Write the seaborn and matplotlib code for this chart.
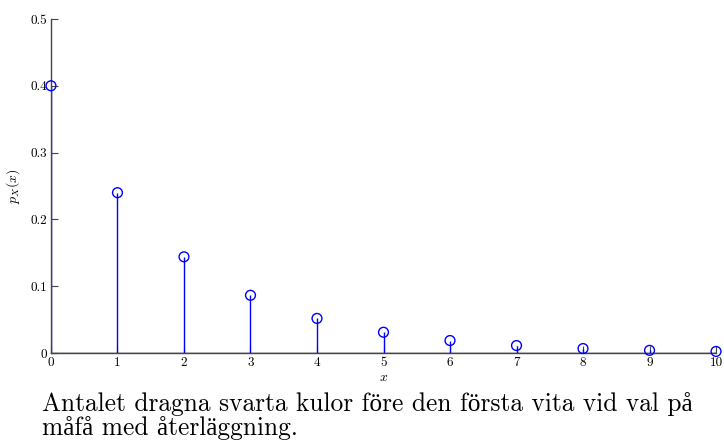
import numpy as np
import pandas as pd
import seaborn as sns
import matplotlib.pyplot as plt

x_vals = [0, 1, 2, 3, 4, 5, 6, 7, 8, 9, 10]
p_vals = [0.400, 0.240, 0.144, 0.0864, 0.0518, 0.0311, 0.0187, 0.0112, 0.0067, 0.0040, 0.0024]
y_ticks = [0, 0.1, 0.2, 0.3, 0.4, 0.5]
y_ticklabels = ["0", "0.1", "0.2", "0.3", "0.4", "0.5"]
caption_1 = "Antalet dragna svarta kulor före den första vita vid val på"
caption_2 = "måfå med återläggning."

sns.set_style("ticks")
plt.rcParams['font.family'] = ['cmr10', 'Liberation Serif']
plt.rcParams['mathtext.fontset'] = 'cm'
plt.rcParams['axes.formatter.use_mathtext'] = True
plt.rcParams['text.color'] = 'black'
plt.rcParams['axes.labelcolor'] = 'black'
plt.rcParams['xtick.labelcolor'] = 'black'
plt.rcParams['ytick.labelcolor'] = 'black'

df = pd.DataFrame({"x": x_vals, "p": p_vals})

fig = plt.figure(figsize=(7.24, 4.41), dpi=100)
ax = fig.add_axes([0.0704, 0.1995, 0.9186, 0.7575])

ax.vlines(df["x"], 0, df["p"], color="blue", lw=1)
sns.scatterplot(data=df, x="x", y="p", ax=ax, marker="o", s=50,
                facecolor="none", edgecolor="blue", linewidth=1, zorder=3, clip_on=False)
ax.axhline(0, color="black", lw=1)

ax.set_xlim(0, 10)
ax.set_ylim(0, 0.5)
ax.set_xticks(x_vals)
ax.set_xticklabels([str(v) for v in x_vals], fontsize=9.5)
ax.set_yticks(y_ticks)
ax.set_yticklabels(y_ticklabels, fontsize=9.5)
ax.tick_params(direction="in", length=5, color="#444444", pad=3)
ax.set_xlabel("$x$", fontsize=10, labelpad=2)
ax.set_ylabel("$p_X(x)$", fontsize=10, labelpad=6)
for s in ["top", "right"]:
    ax.spines[s].set_visible(False)
for s in ["left", "bottom"]:
    ax.spines[s].set_color("#444444")
    ax.spines[s].set_linewidth(1)

fig.text(0.058, 1 - 411 / 441, caption_1, fontsize=18.3, va="baseline", ha="left")
fig.text(0.058, 1 - 435 / 441, caption_2, fontsize=18.3, va="baseline", ha="left")

fig.savefig("out.png", dpi=100)
